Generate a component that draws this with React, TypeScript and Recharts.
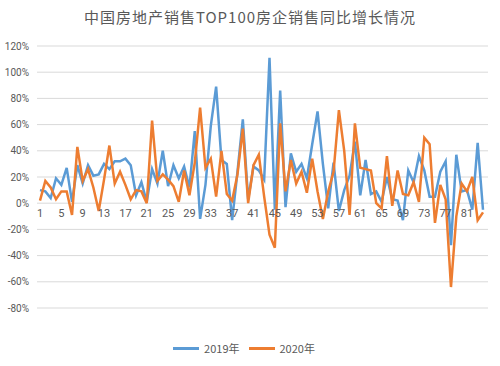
import React from "react";
import {
  LineChart,
  Line,
  XAxis,
  YAxis,
  CartesianGrid,
  ReferenceDot,
  Legend,
} from "recharts";

const categories: string[] = Array.from({ length: 84 }, (_, i) => String(i + 1));

const sales2019: number[] = [
  10, 9, 4, 19, 14, 27, 1, 29, 15, 29, 21, 22, 30, 26, 32, 32, 34, 29, 6, 16, 1,
  26, 15, 40, 13, 29, 19, 28, 12, 55, -12, 14, 59, 89, 33, 30, -13, 24, 64, 3,
  28, 25, 18, 111, -5, 86, -3, 38, 24, 30, 19, 45, 70, 30, -4, 31, -6, 10, 21,
  47, 6, 33, 7, 9, 1, 20, 3, 2, -13, 25, 16, 36, 25, 5, 5, 24, 32, -32, 37, 9,
  10, -5, 46, -5,
];

const sales2020: number[] = [
  2, 17, 12, 3, 9, 9, -9, 43, 17, 26, 12, -6, 18, 44, 15, 24, 14, 3, 10, 9, 0,
  63, 17, 22, 18, 13, 1, 25, 6, 31, 73, 27, 34, 5, 40, 7, 2, 22, 57, 0, 29, 37,
  5, -24, -34, 61, 9, 33, 15, 24, 8, 34, 9, -12, 9, 24, 71, 40, -9, 61, 27, 26,
  25, 0, -4, 36, -2, 25, 7, 6, 16, 1, 50, 45, -15, 14, 3, -64, -10, 15, 9, 20,
  -13, -7,
];

const xTickLabels: string[] = categories.filter((_, i) => i % 4 === 0);
const yTicks: number[] = [-80, -60, -40, -20, 0, 20, 40, 60, 80, 100, 120];

const data = categories.map((name, i) => ({
  name,
  y2019: sales2019[i],
  y2020: sales2020[i],
}));

const BLUE = "#5B9BD5";
const ORANGE = "#ED7D31";
const TEXT = "#595959";
const NUM_FONT = "Roboto, 'Noto Sans', sans-serif";
const CJK_FONT = "'Noto Sans CJK SC', sans-serif";

const renderLegend = () => (
  <div
    style={{
      display: "flex",
      justifyContent: "center",
      alignItems: "center",
      fontFamily: CJK_FONT,
      fontSize: 11,
      color: TEXT,
      gap: 5,
    }}
  >
    <span style={{ display: "inline-block", width: 26, height: 3, background: BLUE }} />
    <span>2019年</span>
    <span style={{ display: "inline-block", width: 26, height: 3, background: ORANGE, marginLeft: 4 }} />
    <span>2020年</span>
  </div>
);

export default function App() {
  return (
    <div
      style={{
        position: "absolute",
        left: 0,
        top: 0,
        width: 500,
        height: 366,
        background: "#fff",
      }}
    >
      <div
        style={{
          position: "absolute",
          top: 6,
          left: 0,
          width: 500,
          textAlign: "center",
          fontFamily: CJK_FONT,
          fontSize: 15,
          letterSpacing: 1,
          color: TEXT,
        }}
      >
        中国房地产销售TOP100房企销售同比增长情况
      </div>
      <LineChart
        width={500}
        height={366}
        data={data}
        margin={{ top: 46, right: 12, bottom: 42, left: 0 }}
      >
        <CartesianGrid vertical={false} stroke="#d9d9d9" strokeWidth={1} />
        <XAxis dataKey="name" hide padding={{ left: 3, right: 5 }} />
        <YAxis
          width={37}
          domain={[-80, 120]}
          ticks={yTicks}
          interval={0}
          axisLine={false}
          tickLine={false}
          tickSize={6}
          tickFormatter={(v: number) => `${v}%`}
          tick={{ fill: TEXT, fontSize: 10, fontFamily: NUM_FONT }}
        />
        {xTickLabels.map((label) => (
          <ReferenceDot
            key={label}
            x={label}
            y={0}
            r={0}
            fill="none"
            stroke="none"
            label={{
              value: label,
              position: "bottom",
              offset: 6,
              fill: TEXT,
              fontSize: 11,
              fontFamily: NUM_FONT,
            }}
          />
        ))}
        <Line
          type="linear"
          dataKey="y2019"
          name="2019年"
          stroke={BLUE}
          strokeWidth={2.5}
          dot={false}
          isAnimationActive={false}
        />
        <Line
          type="linear"
          dataKey="y2020"
          name="2020年"
          stroke={ORANGE}
          strokeWidth={2.5}
          dot={false}
          isAnimationActive={false}
        />
        <Legend
          content={renderLegend}
          verticalAlign="bottom"
          wrapperStyle={{ bottom: 10 }}
        />
      </LineChart>
    </div>
  );
}
